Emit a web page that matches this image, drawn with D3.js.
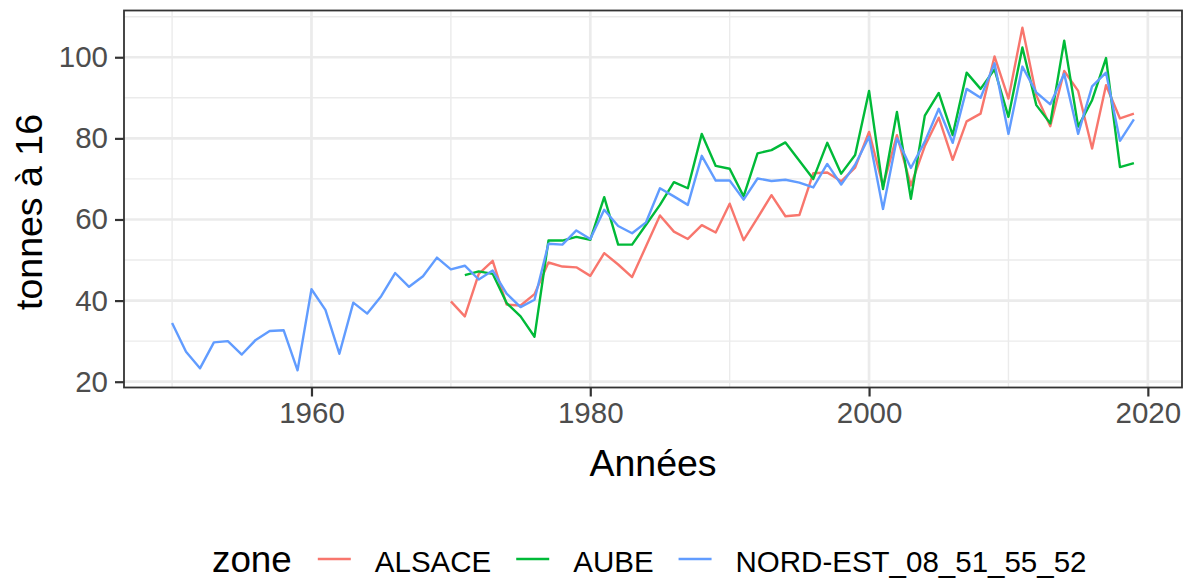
<!DOCTYPE html>
<html>
<head>
<meta charset="utf-8">
<script src="https://cdn.jsdelivr.net/npm/d3@7"></script>
<style>
  body { margin: 0; background: #fff; }
  text { font-family: "Liberation Sans", Arial, sans-serif; }
</style>
</head>
<body>
<div class="chart"></div>
<script>
// rendements par zone
const zones = ['ALSACE', 'AUBE', 'NORD-EST_08_51_55_52'];
const colors = ['#F8766D', '#00BA38', '#619CFF'];

const alsaceStart = 1970;
const alsace = [
	39.8, 36.1, 46.6, 49.8, 39.0, 38.8, 41.6, 49.4, 48.4, 48.2,
	46.1, 51.7, 48.9, 45.8, 53.4, 61.0, 57.0, 55.2, 58.6, 56.8,
	63.9, 54.9, 60.4, 66.0, 60.8, 61.1, 71.4, 71.6, 69.4, 72.8,
	81.6, 68.2, 80.8, 68.4, 78.1, 85.1, 74.7, 84.2, 86.1, 100.2,
	89.8, 107.3, 90.6, 83.0, 96.6, 91.7, 77.5, 93.1, 84.9, 86.1
];

const aubeStart = 1971;
const aube = [
	46.3, 47.2, 46.6, 39.4, 36.1, 31.1, 54.8, 54.8, 55.7,
	55.0, 65.5, 53.8, 53.8, 58.7, 63.6, 69.2, 67.7, 81.1, 73.2,
	72.5, 65.7, 76.3, 77.1, 79.0, 74.5, 70.0, 78.9, 71.3, 75.9,
	91.7, 67.5, 86.5, 65.1, 85.6, 91.2, 80.8, 96.2, 92.2, 97.0,
	85.3, 102.4, 88.2, 83.7, 104.1, 82.9, 89.4, 99.8, 72.9, 73.9
];

const nordEstStart = 1950;
const nordEst = [
	34.5, 27.4, 23.3, 29.7, 30.0, 26.7, 30.3, 32.5, 32.7, 22.8,
	42.8, 37.7, 26.9, 39.5, 36.8, 41.1, 46.8, 43.4, 46.0, 50.6,
	47.7, 48.6, 45.2, 47.4, 41.7, 38.4, 40.2, 54.0, 53.8, 57.3,
	55.2, 62.4, 58.4, 56.6, 59.3, 67.7, 65.7, 63.6, 75.7, 69.6,
	69.6, 64.9, 70.1, 69.5, 69.8, 69.1, 67.9, 73.7, 68.6, 73.5,
	80.4, 62.6, 80.0, 72.7, 79.2, 87.3, 78.9, 92.2, 90.0, 98.5,
	81.1, 97.7, 91.3, 88.4, 95.9, 81.1, 92.8, 96.2, 79.4, 84.7
];

const xTicks = [1960, 1980, 2000, 2020];
const xMinor = [1950, 1970, 1990, 2010];
const yTicks = [20, 40, 60, 80, 100];
const yMinor = [30, 50, 70, 90, 110];

const series = [
	{zone: zones[0], values: alsace.map((v, i) => ({year: alsaceStart + i, value: v}))},
	{zone: zones[1], values: aube.map((v, i) => ({year: aubeStart + i, value: v}))},
	{zone: zones[2], values: nordEst.map((v, i) => ({year: nordEstStart + i, value: v}))}
];

const W = 1189, H = 579;
const panel = {left: 124, right: 1182, top: 10.5, bottom: 387.5};

const svg = d3.select('.chart')
	.append('svg')
		.attr('width', W)
		.attr('height', H);

// ggplot-style 5% expansion
const allPts = series.flatMap(s => s.values);
const xExt = d3.extent(allPts, d => d.year);
const yExt = d3.extent(allPts, d => d.value);
const xPad = (xExt[1] - xExt[0]) * 0.05;
const yPad = (yExt[1] - yExt[0]) * 0.05;

const xScale = d3.scaleLinear()
	.domain([xExt[0] - xPad, xExt[1] + xPad])
	.range([panel.left, panel.right]);

const yScale = d3.scaleLinear()
	.domain([yExt[0] - yPad, yExt[1] + yPad])
	.range([panel.bottom, panel.top]);

const color = d3.scaleOrdinal().domain(zones).range(colors);

// grid
const grid = svg.append('g');
grid.selectAll('.ymin').data(yMinor.filter(v => yScale(v) > panel.top)).enter()
	.append('line')
	.attr('x1', panel.left).attr('x2', panel.right)
	.attr('y1', d => yScale(d)).attr('y2', d => yScale(d))
	.attr('stroke', '#EBEBEB').attr('stroke-width', 1.4);
grid.selectAll('.xmin').data(xMinor).enter()
	.append('line')
	.attr('y1', panel.top).attr('y2', panel.bottom)
	.attr('x1', d => xScale(d)).attr('x2', d => xScale(d))
	.attr('stroke', '#EBEBEB').attr('stroke-width', 1.4);
grid.selectAll('.ymaj').data(yTicks).enter()
	.append('line')
	.attr('x1', panel.left).attr('x2', panel.right)
	.attr('y1', d => yScale(d)).attr('y2', d => yScale(d))
	.attr('stroke', '#EBEBEB').attr('stroke-width', 2.7);
grid.selectAll('.xmaj').data(xTicks).enter()
	.append('line')
	.attr('y1', panel.top).attr('y2', panel.bottom)
	.attr('x1', d => xScale(d)).attr('x2', d => xScale(d))
	.attr('stroke', '#EBEBEB').attr('stroke-width', 2.7);

// lines
const line = d3.line()
	.x(d => xScale(d.year))
	.y(d => yScale(d.value));

svg.append('g')
	.selectAll('path')
	.data(series)
	.enter()
	.append('path')
	.attr('d', d => line(d.values))
	.attr('fill', 'none')
	.attr('stroke', d => color(d.zone))
	.attr('stroke-width', 2.4)
	.attr('stroke-linejoin', 'round');

// panel border
svg.append('rect')
	.attr('x', panel.left).attr('y', panel.top)
	.attr('width', panel.right - panel.left)
	.attr('height', panel.bottom - panel.top)
	.attr('fill', 'none')
	.attr('stroke', '#333333')
	.attr('stroke-width', 1.8);

// axes
const xAxis = d3.axisBottom(xScale)
	.tickValues(xTicks)
	.tickFormat(d3.format('d'))
	.tickSize(9)
	.tickPadding(6);

const yAxis = d3.axisLeft(yScale)
	.tickValues(yTicks)
	.tickSize(9)
	.tickPadding(7);

function styleAxis(g) {
	g.select('.domain').remove();
	g.selectAll('.tick line').attr('stroke', '#333333').attr('stroke-width', 2.2);
	g.selectAll('.tick text')
		.attr('fill', '#4D4D4D')
		.style('font-size', '29.5px')
		.style('font-family', '"Liberation Sans", Arial, sans-serif');
}

svg.append('g')
	.attr('transform', `translate(0, ${panel.bottom})`)
	.call(xAxis)
	.call(styleAxis);

svg.append('g')
	.attr('transform', `translate(${panel.left}, 0)`)
	.call(yAxis)
	.call(styleAxis);

// axis titles
svg.append('text')
	.attr('x', (panel.left + panel.right) / 2)
	.attr('y', 476)
	.attr('text-anchor', 'middle')
	.style('font-size', '37.5px')
	.text('Années');

svg.append('text')
	.attr('transform', 'translate(41.5, 212) rotate(-90)')
	.attr('text-anchor', 'middle')
	.style('font-size', '37.5px')
	.text('tonnes à 16');

// legend
const legend = svg.append('g');
const legendY = 572;
const title = legend.append('text')
	.attr('x', 212)
	.attr('y', legendY)
	.style('font-size', '36.8px')
	.text('zone');

let xPos = 212 + title.node().getComputedTextLength() + 26;
zones.forEach(z => {
	legend.append('line')
		.attr('x1', xPos).attr('x2', xPos + 33)
		.attr('y1', 559).attr('y2', 559)
		.attr('stroke', color(z))
		.attr('stroke-width', 2.4);
	const t = legend.append('text')
		.attr('x', xPos + 57)
		.attr('y', legendY)
		.style('font-size', '29.5px')
		.text(z);
	xPos = xPos + 57 + t.node().getComputedTextLength() + 25;
});
</script>
</body>
</html>
